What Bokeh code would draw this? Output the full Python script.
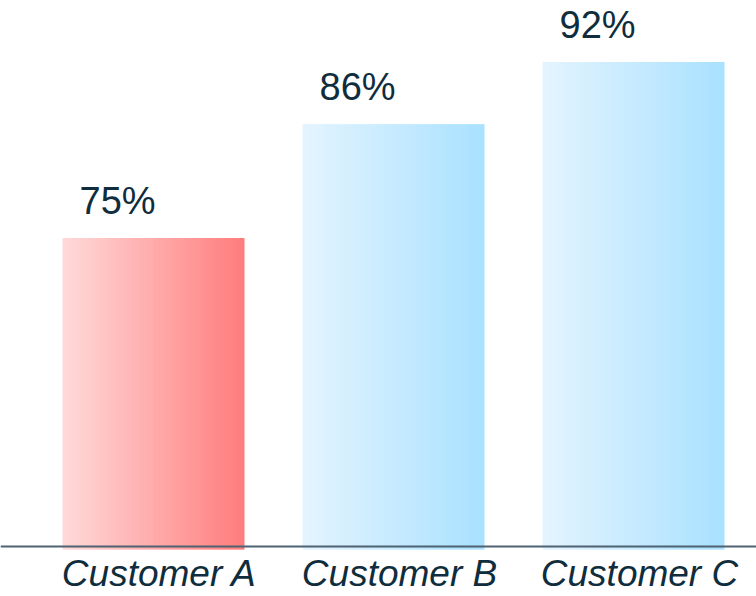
import numpy as np
from bokeh.plotting import figure
from bokeh.models import Range1d, Span, ColumnDataSource
from bokeh.core.properties import value
from bokeh.embed import file_html
from bokeh.resources import INLINE

# ---- data ----
categories = ["Customer A", "Customer B", "Customer C"]
values = [75, 86, 92]
value_labels = ["75%", "86%", "92%"]

# ---- styles ----
grad_left = ["#FFDADA", "#E4F4FF", "#E4F4FF"]
grad_right = ["#FF7C7C", "#A9E1FF", "#A9E1FF"]
TEXT_COLOR = "#0f2d3d"
BASE = 44.9          # value at which bars start (non-zero baseline)
LINE_AT = 45.2
BAR_W = 0.758
N_STRIPS = 90

def hex2rgb(h):
    h = h.lstrip("#")
    return tuple(int(h[i:i + 2], 16) for i in (0, 2, 4))

def rgb2hex(c):
    return "#%02x%02x%02x" % tuple(int(round(x)) for x in c)

p = figure(width=756, height=596,
           x_range=Range1d(-0.6375, 2.5125), y_range=Range1d(40.37, 97.95),
           x_axis_type=None, y_axis_type=None,
           output_backend="svg", toolbar_location=None, min_border=0)
p.grid.visible = False
p.outline_line_color = None
p.background_fill_color = "white"
p.border_fill_color = "white"

xs = np.arange(len(categories))

# gradient bars as thin vertical strips
L, R, T, B, C = [], [], [], [], []
for i, v in enumerate(values):
    c0 = np.array(hex2rgb(grad_left[i]), dtype=float)
    c1 = np.array(hex2rgb(grad_right[i]), dtype=float)
    l0 = xs[i] - BAR_W / 2
    step = BAR_W / N_STRIPS
    for k in range(N_STRIPS):
        t = (k + 0.5) / N_STRIPS
        L.append(l0 + k * step)
        R.append(l0 + (k + 1) * step + (step * 0.8 if k < N_STRIPS - 1 else 0))
        T.append(v)
        B.append(BASE)
        C.append(rgb2hex(c0 + (c1 - c0) * t))

p.quad(left=L, right=R, top=T, bottom=B, fill_color=C, line_color=None)

# baseline
p.add_layout(Span(location=LINE_AT, dimension="width", line_color="#4f6272", line_width=2))

# value labels
src_v = ColumnDataSource(dict(x=list(xs - BAR_W / 2), y=values, t=value_labels))
p.text(x="x", y="y", text="t", source=src_v, x_offset=17, y_offset=-37,
       text_align="left", text_baseline="alphabetic",
       text_font=value("Liberation Sans"), text_font_size="38px", text_color=TEXT_COLOR)

# category labels
src_c = ColumnDataSource(dict(x=list(xs), y=[LINE_AT] * len(categories), t=categories))
p.text(x="x", y="y", text="t", source=src_c, x_offset=6, y_offset=27,
       text_align="center", text_baseline="alphabetic",
       text_font=value("Liberation Sans"), text_font_style="italic",
       text_font_size="37px", text_color=TEXT_COLOR)

open("out.html", "w").write(file_html(p, INLINE))
